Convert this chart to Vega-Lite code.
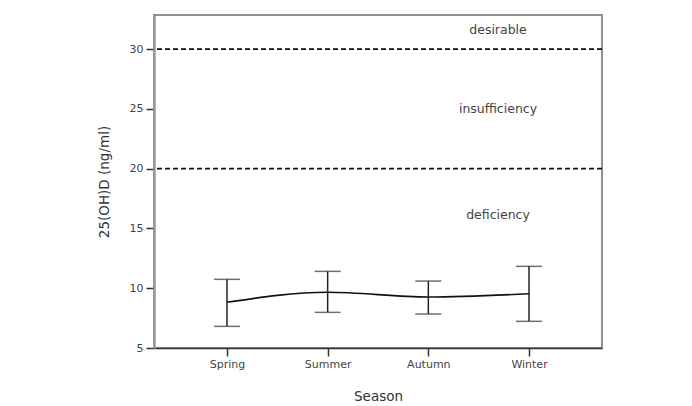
{
  "$schema": "https://vega.github.io/schema/vega-lite/v6.json",
  "width": 448,
  "height": 333,
  "autosize": {"type": "none"},
  "padding": {"left": 154, "top": 15, "right": 90, "bottom": 58},
  "background": "white",
  "config": {
    "view": {"stroke": "#909090", "strokeWidth": 2},
    "font": "DejaVu Sans",
    "axis": {
      "labelFont": "DejaVu Sans",
      "titleFont": "DejaVu Sans",
      "labelColor": "#444",
      "titleColor": "#333",
      "labelFontSize": 11,
      "titleFontSize": 13.5,
      "titleFontWeight": "normal",
      "grid": false,
      "tickColor": "#333",
      "tickWidth": 1.5,
      "tickSize": 8
    }
  },
  "datasets": {
    "seasons": [
      {"season": "Spring", "mean": 8.82, "lo": 6.81, "hi": 10.74},
      {"season": "Summer", "mean": 9.66, "lo": 7.98, "hi": 11.41},
      {"season": "Autumn", "mean": 9.26, "lo": 7.84, "hi": 10.6},
      {"season": "Winter", "mean": 9.54, "lo": 7.23, "hi": 11.83}
    ],
    "thresholds": [{"v": 20}, {"v": 30}],
    "zones": [
      {"label": "desirable", "y": 31.6},
      {"label": "insufficiency", "y": 24.95},
      {"label": "deficiency", "y": 16.1}
    ]
  },
  "layer": [
    {
      "data": {"name": "thresholds"},
      "mark": {"type": "rule", "color": "#111", "strokeWidth": 1.6, "strokeDash": [5, 3]},
      "encoding": {
        "y": {"field": "v", "type": "quantitative", "scale": {"domain": [5, 32.85], "nice": false, "zero": false}}
      }
    },
    {
      "data": {"name": "seasons"},
      "mark": {"type": "line", "color": "#111", "strokeWidth": 1.6, "interpolate": "monotone"},
      "encoding": {
        "x": {
          "field": "season", "type": "ordinal",
          "sort": ["Spring", "Summer", "Autumn", "Winter"],
          "scale": {"type": "point", "padding": 0.725},
          "axis": {"title": "Season", "labelAngle": 0, "domainColor": "#333", "domainWidth": 1.5, "labelPadding": 2, "titlePadding": 20}
        },
        "y": {
          "field": "mean", "type": "quantitative",
          "scale": {"domain": [5, 32.85], "nice": false, "zero": false},
          "axis": {"title": "25(OH)D (ng/ml)", "values": [5, 10, 15, 20, 25, 30], "domainColor": "#999", "domainWidth": 2.5, "labelPadding": 3, "titlePadding": 18}
        }
      }
    },
    {
      "data": {"name": "zones"},
      "mark": {"type": "text", "color": "#444", "fontSize": 12.5, "font": "DejaVu Sans", "dx": -31},
      "encoding": {
        "x": {"datum": "Winter", "type": "ordinal"},
        "y": {"field": "y", "type": "quantitative"},
        "text": {"field": "label"}
      }
    },
    {
      "data": {"name": "seasons"},
      "mark": {"type": "rule", "color": "#222", "strokeWidth": 1.5},
      "encoding": {
        "x": {"field": "season", "type": "ordinal", "sort": ["Spring", "Summer", "Autumn", "Winter"]},
        "y": {"field": "lo", "type": "quantitative"},
        "y2": {"field": "hi"}
      }
    },
    {
      "data": {"name": "seasons"},
      "mark": {"type": "tick", "orient": "horizontal", "color": "#333", "size": 26, "thickness": 1.5},
      "encoding": {
        "x": {"field": "season", "type": "ordinal", "sort": ["Spring", "Summer", "Autumn", "Winter"]},
        "y": {"field": "lo", "type": "quantitative"}
      }
    },
    {
      "data": {"name": "seasons"},
      "mark": {"type": "tick", "orient": "horizontal", "color": "#333", "size": 26, "thickness": 1.5},
      "encoding": {
        "x": {"field": "season", "type": "ordinal", "sort": ["Spring", "Summer", "Autumn", "Winter"]},
        "y": {"field": "hi", "type": "quantitative"}
      }
    }
  ]
}
